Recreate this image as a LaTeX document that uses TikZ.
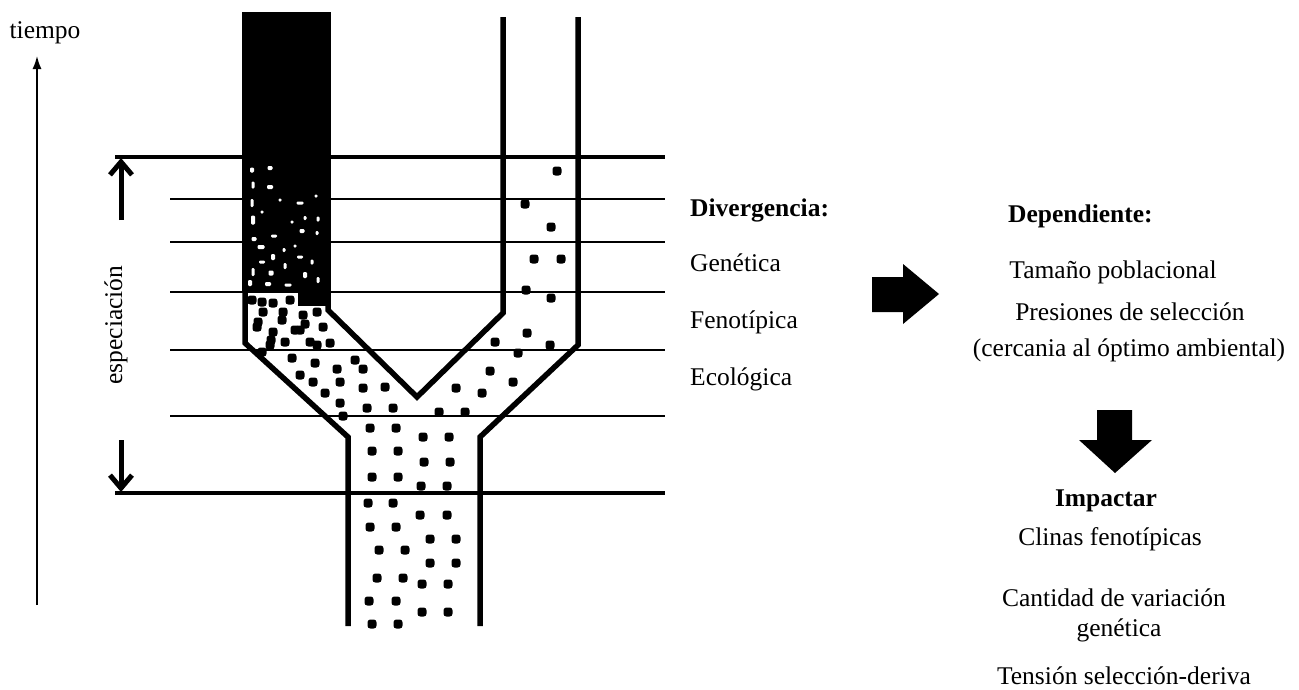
\documentclass[tikz,border=0pt]{standalone}
\usepackage{fontspec}
\setmainfont{Liberation Serif}
\usetikzlibrary{arrows.meta}

\begin{document}
\begin{tikzpicture}[x=1pt,y=-1pt,
  guide/.style={line width=2.4pt},
  guidebold/.style={line width=3.2pt},
  wall/.style={line width=5.5pt, miter limit=10},
  grain/.style={fill=black, rounded corners=2.8pt},
  speck/.style={fill=white, rounded corners=1.2pt},
  lbl/.style={font=\fontsize{25.5}{30}\selectfont, inner sep=0pt},
  lblb/.style={lbl, font=\fontsize{25.5}{30}\selectfont\bfseries},
  blockarrow/.style={fill=black},
  span/.style={line width=5pt, -{Straight Barb[length=13pt,width=22pt]}}]

\useasboundingbox (0,0) rectangle (1299,689);

% time axis
\coordinate (t0) at (37,605);
\coordinate (t1) at (37,56);
\draw[line width=1.5pt, -{Latex[length=13pt,width=9pt]}] (t0) -- (t1);
\node[lbl, anchor=base] (tiempo) at (45,38) {tiempo};

% horizontal time levels
\draw[guidebold] (115,157) -- (665,157);
\foreach \y in {199,242,292,350,416}
  \draw[guide] (170,\y) -- (665,\y);
\draw[guidebold] (115,493) -- (665,493);

% speciation span
\coordinate (s1) at (121,220);
\coordinate (s2) at (121,158);
\coordinate (s3) at (121,440);
\coordinate (s4) at (121,492);
\draw[span] (s1) -- (s2);
\draw[span] (s3) -- (s4);
\node[lbl, rotate=90] (esp) at (116,325) {especiación};

% lineage walls
\draw[wall] (245,12) -- (245,343) -- (348,437) -- (348,626);
\draw[wall] (328,12) -- (328,310) -- (417,397) -- (503,313) -- (503,17);
\draw[wall] (578,17) -- (578,345) -- (480,437) -- (480,626);

% ancestral lineage (solid, dissolving downwards)
\fill (242,12) rectangle (331,292);
\fill (298,290) rectangle (331,306);
\foreach \x/\y/\w/\h in {252/170/4/5,270/168/5/4,253/185/3/7,270/187/6/4,
  252/203/3/8,300/203/7/3,253/220/4/9,305/218/3/4,318/219/3/5,302/231/5/4,
  274/236/6/3,317/233/3/4,254/239/5/4,261/247/7/4,273/257/4/6,300/257/6/3,
  253/272/3/8,271/273/5/5,305/275/4/6,288/285/7/3,262/262/6/3,285/266/3/6,
  295/246/3/3,280/200/3/3,262/212/3/3,312/262/3/5,250/283/4/6,268/284/6/4,
  318/280/3/6,284/250/3/4,292/222/3/3,316/196/3/3}
  \fill[speck] (\x-\w/2,\y-\h/2) rectangle ++(\w,\h);

% individuals: left branch
\foreach \x/\y in {262/302,273/303,283/312,263/312,303/315,317/312,282/320,
  257/327,295/330,273/332,323/327,270/345,285/342,317/345,330/343,292/358,
  315/363,337/369,355/360,363/369,300/375,313/382,340/382,363/388,385/387,
  325/393,340/403,343/416,258/322,300/330,271/340,310/342,252/300,290/300,
  305/324,262/352}
  \fill[grain] (\x-4.5,\y-4.5) rectangle ++(9,9);

% individuals: right branch
\foreach \x/\y in {557/171,525/204,551/227,534/259,561/259,526/290,551/298,
  527/333,495/342,550/345,518/353,490/371,513/382,456/388,482/393}
  \fill[grain] (\x-4.5,\y-4.5) rectangle ++(9,9);

% individuals: ancestral stem
\foreach \x/\y in {367/408,393/408,439/412,465/412,370/428,396/428,423/437,
  449/437,372/451,398/451,424/462,450/462,372/477,398/477,421/486,447/486,
  368/503,393/503,420/515,447/515,370/527,396/527,430/539,456/539,379/550,
  405/550,430/563,456/563,377/578,403/578,422/584,448/584,369/601,396/601,
  422/612,448/612,372/624,398/624}
  \fill[grain] (\x-4.5,\y-4.5) rectangle ++(9,9);

% divergence levels
\node[lblb, anchor=base west] (div) at (690,216) {Divergencia:};
\node[lbl, anchor=base west] (gen) at (690,271) {Genética};
\node[lbl, anchor=base west] (fen) at (690,328) {Fenotípica};
\node[lbl, anchor=base west] (eco) at (690,385) {Ecológica};

% arrow to dependencies
\fill[blockarrow] (872,277) -- (903,277) -- (903,264) -- (939,294)
  -- (903,324) -- (903,312) -- (872,312) -- cycle;

\node[lblb, anchor=base west] (dep) at (1008,222) {Dependiente:};
\node[lbl, anchor=base] (tam) at (1113,278) {Tamaño poblacional};
\node[lbl, anchor=base] (pre) at (1130,320) {Presiones de selección};
\node[lbl, anchor=base] (cer) at (1129,356) {(cercania al óptimo ambiental)};

% arrow to impacts
\fill[blockarrow] (1097,410) -- (1132,410) -- (1132,440) -- (1152,440)
  -- (1115,473) -- (1079,440) -- (1097,440) -- cycle;

\node[lblb, anchor=base] (imp) at (1106,506) {Impactar};
\node[lbl, anchor=base] (cli) at (1110,545) {Clinas fenotípicas};
\node[lbl, anchor=base] (can) at (1114,606) {Cantidad de variación};
\node[lbl, anchor=base] (cgen) at (1119,636) {genética};
\node[lbl, anchor=base] (ten) at (1124,684) {Tensión selección-deriva};
\end{tikzpicture}
\end{document}
